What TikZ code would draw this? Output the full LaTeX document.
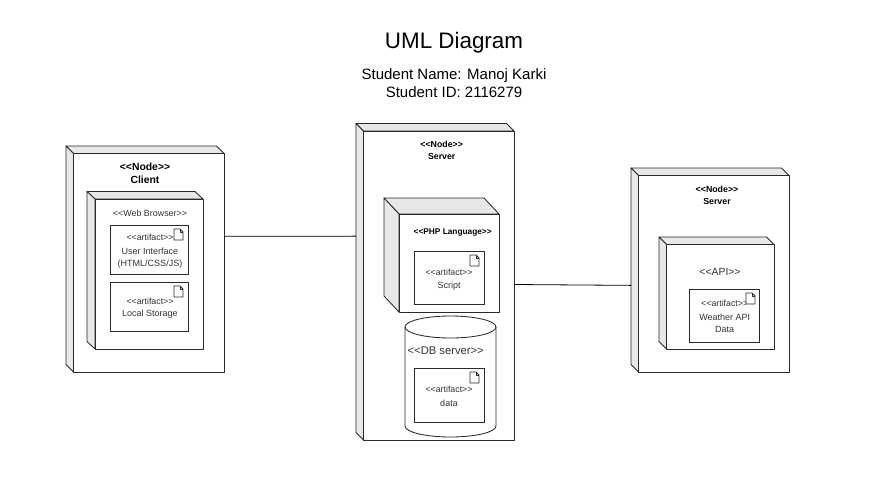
\documentclass[tikz,border=0pt]{standalone}
\usepackage{fontspec}
\newfontfamily\lib{Liberation Sans}
\definecolor{facegrey}{HTML}{E8E8E8}
\definecolor{edgeink}{HTML}{2A2A2A}
\definecolor{txtink}{HTML}{333333}
\newcommand{\fsz}[1]{\fontsize{#1}{#1}\selectfont}
\tikzset{
  edge/.style={draw=edgeink,line width=0.85pt,line join=round},
  face/.style={edge,fill=facegrey},
  boxbound/.style={inner sep=0pt,outer sep=0pt,rectangle},
  artifactbox/.style={boxbound,draw=edgeink,line width=0.85pt,fill=white},
  link/.style={draw=black,line width=0.8pt},
  lbl/.style={inner sep=0pt,outer sep=0pt,text=txtink,align=center,font=\lib\fsz{9},yshift=-0.8pt},
  nodelbl/.style={inner sep=0pt,outer sep=0pt,text=black,align=center,font=\lib\bfseries\fsz{8.8},yshift=-0.8pt},
  titlelbl/.style={inner sep=0pt,outer sep=0pt,text=black,align=center}
}
% #1 name, #2 #3 back top left, #4 #5 front bottom right, #6 #7 depth
\newcommand{\deploybox}[7]{%
  \pgfmathsetmacro{\cx}{(#2+#4)/2}\pgfmathsetmacro{\cy}{(#3+#5)/2}%
  \pgfmathsetmacro{\bw}{#4-#2}\pgfmathsetmacro{\bh}{#5-#3}%
  \node[boxbound,minimum width=\bw pt,minimum height=\bh pt] (#1) at (\cx,\cy) {};
  \path[face] (#2,#3) -- ({#4-#6},#3) -- (#4,{#3+#7}) -- ({#2+#6},{#3+#7}) -- cycle;
  \path[face] (#2,#3) -- ({#2+#6},{#3+#7}) -- ({#2+#6},#5) -- (#2,{#5-#7}) -- cycle;
  \path[edge,fill=white] ({#2+#6},{#3+#7}) rectangle (#4,#5);
}
% #1 left, #2 top
\newcommand{\docicon}[2]{%
  \path[edge,fill=white,line width=0.8pt] (#1,#2) -- ({#1+6},#2) -- ({#1+9},{#2+3}) -- ({#1+9},{#2+11}) -- (#1,{#2+11}) -- cycle;
  \path[edge,line width=0.6pt] ({#1+6},#2) -- ({#1+6},{#2+3}) -- ({#1+9},{#2+3});
}
\newcommand{\artbox}[5]{%
  \pgfmathsetmacro{\cx}{(#2+#4)/2}\pgfmathsetmacro{\cy}{(#3+#5)/2}%
  \pgfmathsetmacro{\bw}{#4-#2}\pgfmathsetmacro{\bh}{#5-#3}%
  \node[artifactbox,minimum width=\bw pt,minimum height=\bh pt] (#1) at (\cx,\cy) {};
}
\begin{document}
\begin{tikzpicture}[x=1pt,y=-1pt]
\path[fill=white] (0,0) rectangle (894,488);
\useasboundingbox (0,0) rectangle (894,488);

% title
\node[titlelbl,font=\lib\fsz{22.4}] (title) at (454,43) {UML Diagram};
\node[titlelbl,font=\lib\fsz{15}] (sname) at (454,75.2) {Student Name: Manoj Karki};
\node[titlelbl,font=\lib\fsz{15}] (sid) at (454,92.2) {Student ID: 2116279};

% client
\deploybox{client}{66}{146}{224}{372}{7.5}{7.5}
\node[nodelbl,font=\lib\bfseries\fsz{10.4}] (clientA) at (145,166) {<<Node>>};
\node[nodelbl,font=\lib\bfseries\fsz{10.4}] (clientB) at (145,179) {Client};
\deploybox{browser}{87}{191.5}{203}{349}{8}{7.5}
\node[lbl,font=\lib\fsz{8.9}] (browserL) at (150,213) {<<Web Browser>>};
\artbox{ui}{110}{225}{188}{274}
\docicon{174}{229}
\node[lbl,font=\lib\fsz{8.8}] (uiA) at (150,237) {<<artifact>>};
\node[lbl] (uiB) at (150,250) {User Interface};
\node[lbl] (uiC) at (150,263) {(HTML/CSS/JS)};
\artbox{ls}{110}{282}{188}{331}
\docicon{174}{286}
\node[lbl,font=\lib\fsz{8.8}] (lsA) at (150,301) {<<artifact>>};
\node[lbl] (lsB) at (150,313) {Local Storage};

% middle server
\deploybox{server}{356}{123.5}{514}{440}{7.5}{7.5}
\node[nodelbl] (serverA) at (441.7,144) {<<Node>>};
\node[nodelbl] (serverB) at (441.7,156) {Server};
\deploybox{php}{384}{198}{499}{312}{15}{16}
\node[nodelbl,font=\lib\bfseries\fsz{8.3}] (phpL) at (452.7,232) {<<PHP Language>>};
\artbox{script}{414}{251}{484}{304}
\docicon{470}{255}
\node[lbl,font=\lib\fsz{8.8}] (scriptA) at (449,272) {<<artifact>>};
\node[lbl] (scriptB) at (449,285) {Script};

% database
\node[boxbound,minimum width=91pt,minimum height=121pt] (db) at (450.5,376.5) {};
\path[edge,fill=white] (405,327) -- (405,426) arc[start angle=180,end angle=360,x radius=45.5,y radius=-11] -- (496,327) arc[start angle=0,end angle=180,x radius=45.5,y radius=-11] -- cycle;
\path[edge] (405,327) arc[start angle=180,end angle=360,x radius=45.5,y radius=-11];
\node[lbl,font=\lib\fsz{11.2}] (dbL) at (445.7,350) {<<DB server>>};
\artbox{data}{414}{368}{484}{422}
\docicon{470}{372}
\node[lbl,font=\lib\fsz{8.8}] (dataA) at (449,389) {<<artifact>>};
\node[lbl] (dataB) at (449,402) {data};

% right server
\deploybox{apiserver}{631}{168}{789}{372}{7.5}{7.5}
\node[nodelbl] (apiserverA) at (717,189) {<<Node>>};
\node[nodelbl] (apiserverB) at (717,201) {Server};
\deploybox{api}{659}{237}{774}{349}{7.5}{7.5}
\node[lbl,font=\lib\fsz{10.4}] (apiL) at (720,271) {<<API>>};
\artbox{weather}{689}{289}{759}{342}
\node[lbl,font=\lib\fsz{8.8}] (weatherA) at (724.7,303) {<<artifact>>};
\docicon{746}{293}
\node[lbl] (weatherB) at (724.7,316) {Weather API};
\node[lbl] (weatherC) at (724.7,329) {Data};

% connectors
\path[link] (client.16.2) -- (server.150.5);
\path[link] (server.-2.36) -- (apiserver.191.45);
\end{tikzpicture}
\end{document}
